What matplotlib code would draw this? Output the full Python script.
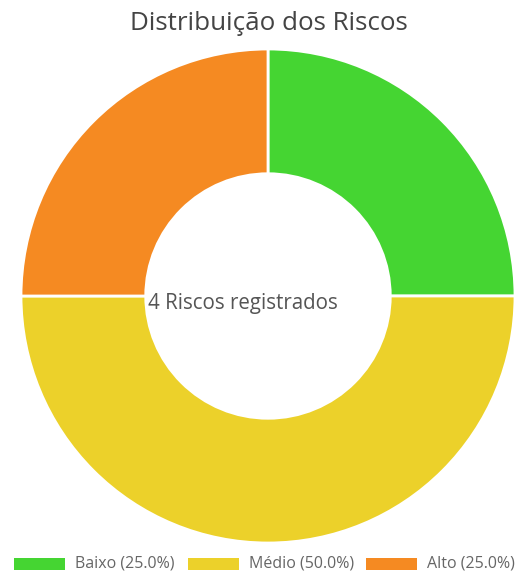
import matplotlib
matplotlib.use("Agg")
import matplotlib.pyplot as plt
from matplotlib.patches import Rectangle

categories = ["Baixo", "Médio", "Alto"]
values = [1, 2, 1]
colors = ["#45d532", "#ecd12a", "#f58a22"]
title = "Distribuição dos Riscos"
center_text = "4 Riscos registrados"

W, H = 531, 577
fig = plt.figure(figsize=(W / 100, H / 100), dpi=100)
plt.rcParams['font.family'] = ['Open Sans', 'DejaVu Sans']

cx, cy, r = 268, 296, 247
ax = fig.add_axes([(cx - r) / W, (H - cy - r) / H, 2 * r / W, 2 * r / H])
ax.pie(values, colors=colors, startangle=90, counterclock=False, radius=1,
       wedgeprops=dict(width=0.505, edgecolor="white", linewidth=2))
ax.set_xlim(-1, 1)
ax.set_ylim(-1, 1)
ax.set_aspect("equal")
ax.axis("off")

fig.text(269 / W, 1 - 23 / H, title, ha="center", va="center", fontsize=18.7, color="#444444")
fig.text(148 / W, 1 - 304 / H, center_text, ha="left", va="center", fontsize=14.8, color="#555555")

total = sum(values)
box_x = [14, 188, 366]
for i, (c, v, col) in enumerate(zip(categories, values, colors)):
    bx = box_x[i]
    fig.patches.append(Rectangle((bx / W, 1 - 570 / H), 51 / W, 12 / H, transform=fig.transFigure,
                                 facecolor=col, edgecolor="none"))
    fig.text((bx + 61) / W, 1 - 564 / H, f"{c} ({v / total * 100:.1f}%)", ha="left", va="center",
             fontsize=11.5, color="#666666")

fig.savefig("out.png", dpi=100)
